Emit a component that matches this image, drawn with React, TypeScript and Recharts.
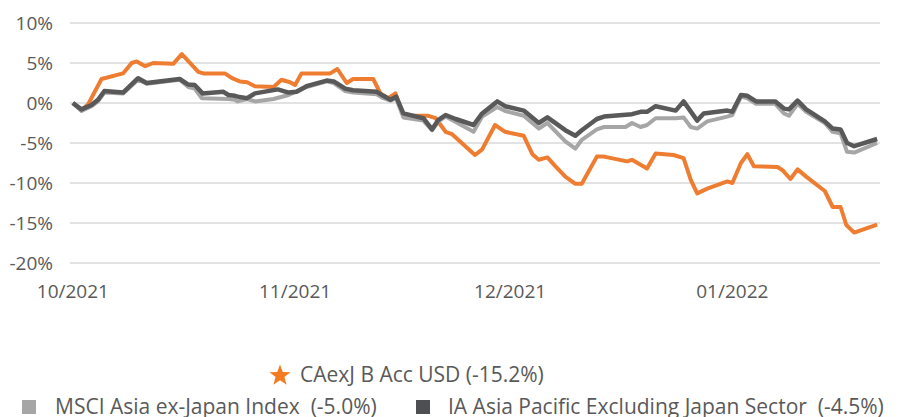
import { CartesianGrid, Line, LineChart, XAxis, YAxis } from "recharts";

// days since 1 Oct 2021
const fundDays = [0, 1.2, 2.1, 4.0, 7.0, 8.2, 8.9, 10.1, 11.2, 14.0, 15.2, 17.5, 18.2, 21.2, 22.2, 23.3, 24.3, 25.4, 28.0, 29.1, 30.3, 31.0, 31.9, 35.9, 36.9, 38.2, 39.1, 41.9, 42.9, 44.0, 45.0, 46.1, 48.5, 49.6, 50.6, 52.0, 52.9, 56.1, 57.1, 58.9, 60.3, 62.9, 64.1, 65.0, 66.2, 67.3, 68.7, 70.1, 71.0, 73.1, 74.1, 77.3, 78.0, 80.1, 81.3, 83.8, 85.2, 86.2, 87.1, 88.5, 91.3, 92.0, 93.2, 94.1, 95.0, 98.3, 99.0, 100.1, 101.1, 102.3, 104.9, 106.0, 107.1, 107.9, 109.0, 112.2];
const fundValues = [0, -0.9, -0.2, 3.0, 3.7, 5.0, 5.2, 4.6, 5.0, 4.9, 6.1, 3.9, 3.7, 3.7, 3.1, 2.7, 2.6, 2.1, 2.0, 2.9, 2.6, 2.25, 3.7, 3.7, 4.25, 2.5, 3.0, 3.0, 1.2, 0.6, 1.2, -1.6, -1.6, -1.6, -1.9, -3.6, -3.9, -6.5, -5.8, -2.75, -3.6, -4.1, -6.4, -7.1, -6.8, -7.9, -9.2, -10.1, -10.1, -6.7, -6.7, -7.3, -7.1, -8.2, -6.3, -6.5, -6.9, -9.6, -11.3, -10.7, -9.8, -10.0, -7.5, -6.4, -7.9, -8.0, -8.4, -9.5, -8.3, -9.2, -11.0, -13.0, -13.0, -15.25, -16.2, -15.2];

const sectorDays = [0, 1.2, 2.6, 3.5, 4.4, 7.0, 9.1, 10.3, 14.9, 16.1, 17.0, 18.1, 21.0, 21.7, 22.6, 23.0, 24.3, 25.4, 28.6, 30.1, 31.2, 32.6, 35.4, 36.4, 38.0, 39.1, 42.4, 43.3, 44.3, 45.1, 46.1, 48.9, 50.1, 51.0, 52.0, 53.4, 55.9, 57.1, 59.2, 60.3, 62.9, 65.0, 66.2, 68.7, 70.1, 71.0, 73.1, 74.1, 78.0, 79.2, 80.1, 81.3, 84.1, 85.2, 87.1, 88.0, 91.3, 92.0, 93.2, 94.1, 95.3, 98.0, 99.2, 99.9, 101.1, 102.3, 104.9, 106.0, 107.1, 108.0, 109.0, 112.2];
const sectorValues = [0, -0.8, -0.25, 0.4, 1.5, 1.3, 3.1, 2.5, 3.0, 2.3, 2.25, 1.2, 1.4, 1.0, 0.9, 0.8, 0.6, 1.2, 1.7, 1.3, 1.4, 2.1, 2.8, 2.7, 1.8, 1.6, 1.4, 0.9, 0.4, 0.8, -1.3, -1.9, -3.3, -2.1, -1.5, -2.0, -2.75, -1.3, 0.2, -0.4, -0.95, -2.5, -1.8, -3.4, -4.1, -3.4, -2.0, -1.7, -1.4, -1.1, -1.1, -0.4, -0.95, 0.2, -2.2, -1.3, -0.95, -1.1, 1.0, 0.9, 0.2, 0.2, -0.7, -0.8, 0.3, -0.8, -2.3, -3.2, -3.3, -5.0, -5.4, -4.5];

const indexDays = [0, 1.2, 2.6, 3.5, 4.4, 7.0, 9.1, 10.3, 14.9, 16.1, 17.0, 18.0, 21.7, 22.6, 23.0, 24.3, 25.4, 28.0, 30.1, 32.6, 35.4, 36.4, 38.0, 39.1, 42.4, 43.3, 44.3, 45.1, 46.1, 48.9, 50.1, 51.0, 52.0, 55.9, 57.1, 59.2, 60.3, 62.9, 65.0, 66.2, 68.7, 70.1, 71.0, 73.1, 74.1, 77.1, 78.0, 79.2, 80.1, 81.3, 84.1, 85.2, 86.2, 87.1, 88.5, 91.3, 92.0, 93.2, 94.1, 95.3, 98.0, 99.2, 99.9, 101.1, 102.3, 104.9, 106.0, 107.1, 108.0, 109.0, 112.2];
const indexValues = [0, -1.0, -0.4, 0.2, 1.3, 1.2, 2.9, 2.4, 2.9, 2.0, 1.8, 0.6, 0.5, 0.4, 0.2, 0.5, 0.2, 0.5, 1.0, 2.0, 2.7, 2.5, 1.5, 1.3, 1.1, 0.6, 0.3, 0.6, -1.8, -2.2, -3.4, -2.3, -1.7, -3.6, -1.7, -0.5, -1.0, -1.6, -3.2, -2.5, -4.8, -5.7, -4.6, -3.3, -3.0, -3.0, -2.5, -3.0, -2.75, -1.9, -1.9, -1.8, -3.0, -3.2, -2.3, -1.7, -1.5, 0.8, 0.6, -0.1, -0.1, -1.3, -1.6, -0.1, -1.1, -2.5, -3.6, -3.8, -6.1, -6.2, -5.0];

const monthTicks = [0, 31, 61, 92];
const monthLabels = ["10/2021", "11/2021", "12/2021", "01/2022"];
const yTicks = [-20, -15, -10, -5, 0, 5, 10];

const toPoints = (days: number[], values: number[]) =>
  days.map((d, i) => ({ d, v: values[i] }));

const fund = toPoints(fundDays, fundValues);
const sector = toPoints(sectorDays, sectorValues);
const index = toPoints(indexDays, indexValues);

const FONT = "'Open Sans', sans-serif";
const TEXT = "#595959";

const legendText = {
  position: "absolute" as const,
  color: TEXT,
  fontSize: 21,
  lineHeight: "28px",
  whiteSpace: "nowrap" as const,
};

export default function App() {
  return (
    <div style={{ position: "fixed", left: 0, top: 0, width: 898, height: 417, overflow: "hidden", background: "#fff", fontFamily: FONT }}>
      <LineChart width={898} height={320} margin={{ top: 23, right: 18, left: 0, bottom: 0 }}>
        <CartesianGrid vertical={false} stroke="#d9d9d9" strokeWidth={1.5} />
        <XAxis
          dataKey="d"
          type="number"
          domain={[-0.4, 112.6]}
          ticks={monthTicks}
          tickFormatter={(t: number) => monthLabels[monthTicks.indexOf(t)]}
          axisLine={false}
          tickLine={false}
          tickSize={6}
          tickMargin={16}
          height={57}
          tick={{ fill: TEXT, fontSize: 19, fontFamily: FONT }}
        />
        <YAxis
          type="number"
          domain={[-20, 10]}
          ticks={yTicks}
          tickFormatter={(t: number) => `${t}%`}
          axisLine={false}
          tickLine={false}
          tickSize={6}
          tickMargin={11}
          width={70}
          tick={{ fill: TEXT, fontSize: 19, fontFamily: FONT }}
        />
        <Line data={fund} dataKey="v" type="linear" stroke="#ee7d31" strokeWidth={4} dot={false} strokeLinejoin="round" isAnimationActive={false} />
        <Line data={index} dataKey="v" type="linear" stroke="#a6a6a6" strokeWidth={4} dot={false} strokeLinejoin="round" isAnimationActive={false} />
        <Line data={sector} dataKey="v" type="linear" stroke="#595959" strokeWidth={4.5} dot={false} strokeLinejoin="round" isAnimationActive={false} />
      </LineChart>

      <svg width="22" height="22" viewBox="0 0 20 20" style={{ position: "absolute", left: 269, top: 364 }}>
        <polygon
          points="10,0.5 12.5,7.2 19.6,7.4 14,11.8 16,18.8 10,14.7 4,18.8 6,11.8 0.4,7.4 7.5,7.2"
          fill="#f47a20"
        />
      </svg>
      <span style={{ ...legendText, left: 300, top: 360 }}>CAexJ B Acc USD (-15.2%)</span>

      <span style={{ position: "absolute", left: 22, top: 400, width: 14, height: 14, background: "#a6a6a6" }} />
      <span style={{ ...legendText, left: 55, top: 392 }}>MSCI Asia ex-Japan Index&nbsp; (-5.0%)</span>
      <span style={{ position: "absolute", left: 416, top: 400, width: 14, height: 14, background: "#4d4f53" }} />
      <span style={{ ...legendText, left: 448, top: 392 }}>IA Asia Pacific Excluding Japan Sector&nbsp; (-4.5%)</span>
    </div>
  );
}
